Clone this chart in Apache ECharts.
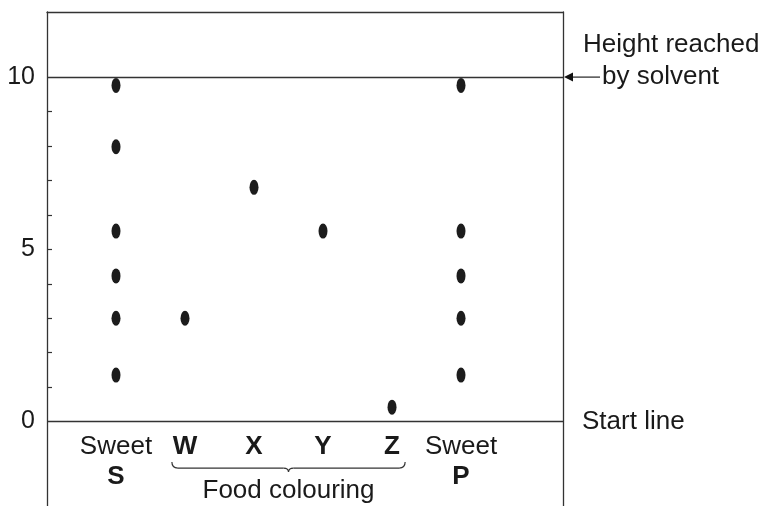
<!DOCTYPE html>
<html><head><meta charset="utf-8">
<script src="https://cdn.jsdelivr.net/npm/echarts@6/dist/echarts.min.js"></script>
<style>html,body{margin:0;padding:0;background:#fff}#c{width:765px;height:506px}</style>
</head><body><div id="c"></div>
<script>
// ---- data ----
const categories = ['S', 'W', 'X', 'Y', 'Z', 'P'];
const catX = [1, 2, 3, 4, 5, 6];
const topLabels = ['Sweet', 'W', 'X', 'Y', 'Z', 'Sweet'];
const topBold = [false, true, true, true, true, false];
const bottomLabels = ['S', '', '', '', '', 'P'];
const spotsS = [9.76, 7.98, 5.53, 4.23, 3.0, 1.35];
const spotsW = [3.0];
const spotsX = [6.8];
const spotsY = [5.53];
const spotsZ = [0.42];
const spotsP = [9.76, 5.53, 4.23, 3.0, 1.35];
const yTickLabels = [0, 5, 10];
const yMinorTicks = [1, 2, 3, 4, 5, 6, 7, 8, 9];
const solventHeight = 10;
const startLine = 0;
const groupLabel = 'Food colouring';
const solventText = ['Height reached', 'by solvent'];
const startText = 'Start line';

const spotSets = [spotsS, spotsW, spotsX, spotsY, spotsZ, spotsP];
const points = [];
spotSets.forEach((arr, i) => arr.forEach(v => points.push([catX[i], v])));

const FONT = "'Liberation Sans', Arial, Helvetica, sans-serif";
const FS = 26;
const INK = '#1a1a1a';
const LINE = '#333';

const chart = echarts.init(document.getElementById('c'), null, {renderer: 'canvas'});
chart.setOption({
  animation: false,
  backgroundColor: '#fff',
  grid: {left: 47, right: 202, top: 12, bottom: 0, containLabel: false},
  xAxis: {
    type: 'value', min: 0, max: 7.478, position: 'top',
    axisLine: {show: true, onZero: false, lineStyle: {color: LINE, width: 1.3}},
    axisTick: {show: false}, axisLabel: {show: false}, splitLine: {show: false}
  },
  yAxis: [{
    type: 'value', min: -2.45, max: 11.89, position: 'left',
    axisLine: {show: true, onZero: false, lineStyle: {color: LINE, width: 1.3}},
    axisTick: {show: true, inside: true, length: 5, customValues: yMinorTicks, lineStyle: {color: LINE, width: 1.2}},
    axisLabel: {show: true, customValues: yTickLabels, fontSize: 25, fontFamily: FONT, color: INK, margin: 12},
    splitLine: {show: false}
  }, {
    type: 'value', min: -2.45, max: 11.89, position: 'right',
    axisLine: {show: true, onZero: false, lineStyle: {color: LINE, width: 1.3}},
    axisTick: {show: false}, axisLabel: {show: false}, splitLine: {show: false}
  }],
  series: [{
    type: 'scatter',
    data: points,
    symbol: 'circle',
    symbolSize: [9, 15],
    itemStyle: {color: '#1c1c1c', opacity: 1},
    markLine: {
      silent: true, symbol: 'none', animation: false,
      label: {show: false},
      lineStyle: {color: LINE, width: 1.3, type: 'solid', opacity: 1},
      data: [{yAxis: solventHeight}, {yAxis: startLine}]
    }
  }]
});

function px(x, y) { return chart.convertToPixel({gridIndex: 0}, [x, y]); }
const g = [];
function txt(text, x, y, bold, align) {
  g.push({type: 'text', silent: true, style: {
    text: text, x: x, y: y, fill: INK,
    font: (bold ? 'bold ' : '') + FS + 'px ' + FONT,
    textAlign: align || 'center', textVerticalAlign: 'middle'
  }});
}
// category labels
catX.forEach((cx, i) => {
  const p1 = px(cx, -0.72);
  txt(topLabels[i], p1[0], p1[1], topBold[i]);
  if (bottomLabels[i]) {
    const p2 = px(cx, -1.6);
    txt(bottomLabels[i], p2[0], p2[1], true);
  }
});
// brace under W..Z
const bl = px(catX[1] - 0.19, -1.35), br = px(catX[4] + 0.19, -1.35);
const bm = (bl[0] + br[0]) / 2, by = bl[1];
const bs = {fill: null, stroke: LINE, lineWidth: 1.2};
g.push({type: 'bezierCurve', silent: true, shape: {x1: bl[0], y1: by - 6, cpx1: bl[0], cpy1: by, x2: bl[0] + 6, y2: by}, style: bs});
g.push({type: 'line', silent: true, shape: {x1: bl[0] + 6, y1: by, x2: bm - 5, y2: by}, style: bs});
g.push({type: 'bezierCurve', silent: true, shape: {x1: bm - 5, y1: by, cpx1: bm, cpy1: by, x2: bm, y2: by + 4}, style: bs});
g.push({type: 'bezierCurve', silent: true, shape: {x1: bm, y1: by + 4, cpx1: bm, cpy1: by, x2: bm + 5, y2: by}, style: bs});
g.push({type: 'line', silent: true, shape: {x1: bm + 5, y1: by, x2: br[0] - 6, y2: by}, style: bs});
g.push({type: 'bezierCurve', silent: true, shape: {x1: br[0] - 6, y1: by, cpx1: br[0], cpy1: by, x2: br[0], y2: by - 6}, style: bs});
const fp = px((catX[1] + catX[4]) / 2, -2.02);
txt(groupLabel, fp[0], fp[1], false);

// right annotations
const right = px(7.478, solventHeight);
const sy = right[1];
g.push({type: 'line', silent: true, shape: {x1: right[0] + 8, y1: sy, x2: right[0] + 37, y2: sy}, style: {stroke: LINE, lineWidth: 1.3}});
g.push({type: 'polygon', silent: true, shape: {points: [[right[0] + 1, sy], [right[0] + 10, sy - 4.5], [right[0] + 10, sy + 4.5]]}, style: {fill: '#111'}});
txt(solventText[0], right[0] + 20, sy - 32, false, 'left');
txt(solventText[1], right[0] + 39, sy, false, 'left');
const st = px(7.478, startLine);
txt(startText, st[0] + 19, st[1], false, 'left');

chart.setOption({graphic: g});
</script></body></html>
